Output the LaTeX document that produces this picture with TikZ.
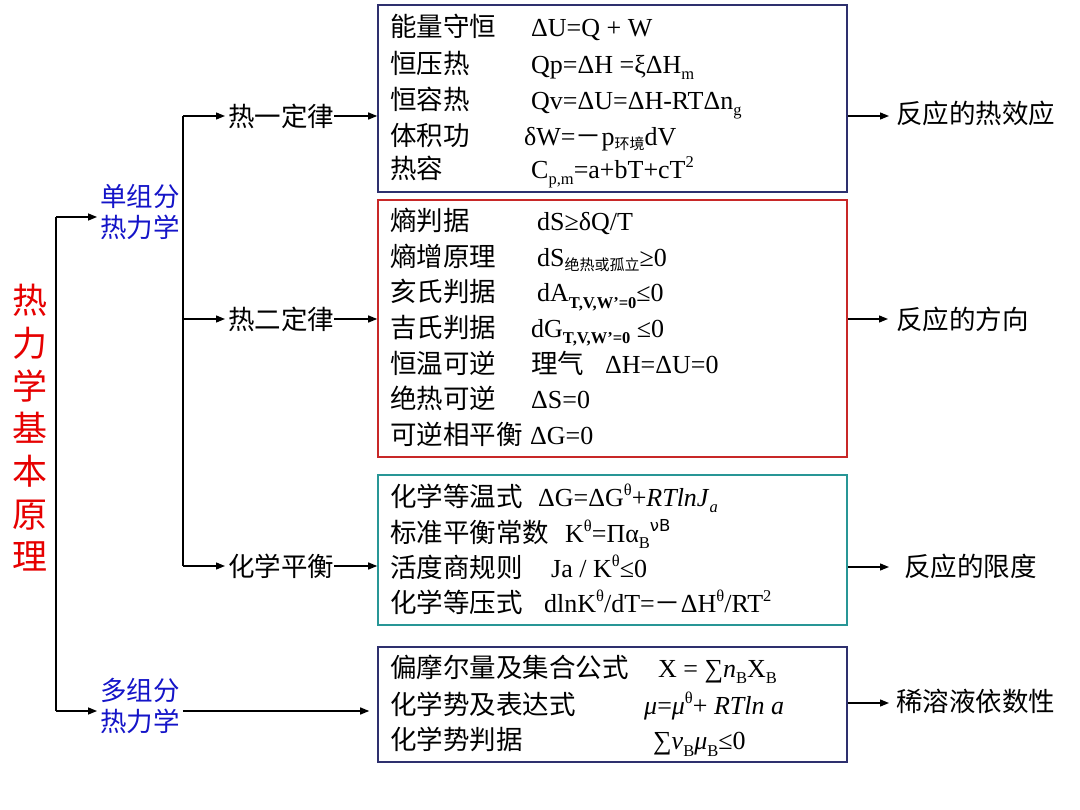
\documentclass[tikz,border=0pt]{standalone}
\usepackage{fontspec}
\setmainfont{Liberation Serif}
\newfontfamily\cjk{Noto Sans CJK SC}
\newfontfamily\dejavu{DejaVu Sans}
\usetikzlibrary{arrows.meta}
\definecolor{navyb}{RGB}{46,48,110}
\definecolor{redb}{RGB}{200,40,40}
\definecolor{tealb}{RGB}{40,150,150}
\definecolor{bluet}{RGB}{20,20,200}
\definecolor{redt}{RGB}{230,0,0}
\newcommand{\mysub}[1]{\raisebox{-0.25em}{\fontsize{16.5}{16.5}\selectfont #1}}
\newcommand{\mysup}[1]{\raisebox{0.42em}{\fontsize{16.5}{16.5}\selectfont #1}}
\newcommand{\cjksub}[1]{\raisebox{-0.15em}{\fontsize{15}{15}\selectfont\cjk #1}}
\begin{document}
\begin{tikzpicture}[x=1pt,y=-1pt,
  cjkt/.style={anchor=base west,inner sep=0pt,font=\cjk\fontsize{26.5}{30}\selectfont},
  ft/.style={anchor=base west,inner sep=0pt,font=\fontsize{26}{30}\selectfont},
  lab/.style={inner sep=0pt,font=\cjk\fontsize{26.5}{30}\selectfont},
  bluelab/.style={align=left,inner sep=3pt,text=bluet,font=\cjk\fontsize{26.5}{31}\selectfont},
  boxs/.style={draw=#1,line width=1.6pt,rectangle,inner sep=0pt},
  arr/.style={line width=1.3pt,-{Triangle[length=9pt,width=7pt]}},
  ln/.style={line width=1.3pt}]
\useasboundingbox (0,0) rectangle (1080,810);

% boxes
\node[boxs=navyb,minimum width=469pt,minimum height=187pt] (b1) at (612.5,98.5) {};
\node[boxs=redb,minimum width=469pt,minimum height=257pt] (b2) at (612.5,328.5) {};
\node[boxs=tealb,minimum width=469pt,minimum height=150pt] (b3) at (612.5,550) {};
\node[boxs=navyb,minimum width=469pt,minimum height=115pt] (b4) at (612.5,704.5) {};

% title
\node[align=center,text=redt,inner sep=0pt,font=\cjk\fontsize{35}{42.7}\selectfont] (title) at (30,428) {热\\力\\学\\基\\本\\原\\理};

% blue labels
\node[bluelab] (s1) at (140,212) {单组分\\热力学};
\node[bluelab] (s2) at (140,706) {多组分\\热力学};

% law labels
\node[lab,anchor=west] (l1) at (228,116) {热一定律};
\node[lab,anchor=west] (l2) at (228,319) {热二定律};
\node[lab,anchor=west] (l3) at (228,566) {化学平衡};

% result labels
\node[lab,anchor=west] (o1) at (896,113) {反应的热效应};
\node[lab,anchor=west] (o2) at (896,319) {反应的方向};
\node[lab,anchor=west] (o3) at (904,566) {反应的限度};
\node[lab,anchor=west] (o4) at (896,701) {稀溶液依数性};

% connectors left
\coordinate (t0) at (56,217);
\coordinate (t1) at (56,711);
\draw[ln] (t0) -- (t1);
\draw[arr] (t0) -- (s1.west |- t0);
\draw[arr] (t1) -- (s2.west |- t1);
\draw[arr] (s2.east |- t1) -- ([xshift=-8pt]b4.west |- t1);

\coordinate (u0) at (183,116);
\coordinate (u1) at (183,319);
\coordinate (u2) at (183,566);
\draw[ln] (u0) -- (u2);
\draw[arr] (u0) -- ([xshift=-3pt]l1.west);
\draw[arr] (u1) -- ([xshift=-3pt]l2.west);
\draw[arr] (u2) -- ([xshift=-3pt]l3.west);
\draw[arr] (l1.east) -- (b1.west |- l1.east);
\draw[arr] (l2.east) -- (b2.west |- l2.east);
\draw[arr] (l3.east) -- (b3.west |- l3.east);

% connectors right
\draw[arr] (b1.east |- 0,116) -- (889,116);
\draw[arr] (b2.east |- o2.west) -- ([xshift=-8pt]o2.west);
\draw[arr] (b3.east |- 0,567) -- (889,567);
\draw[arr] (b4.east |- 0,703) -- (889,703);

% box 1
\node[cjkt] (a1) at (390,36.5) {能量守恒};
\node[ft] (a1f) at (531,36.5) {ΔU=Q + W};
\node[cjkt] (a2) at (390,73.5) {恒压热};
\node[ft] (a2f) at (531,73.5) {Qp=ΔH =ξΔH\mysub{m}};
\node[cjkt] (a3) at (390,109.5) {恒容热};
\node[ft] (a3f) at (531,109.5) {Qv=ΔU=ΔH-RTΔn\mysub{g}};
\node[cjkt] (a4) at (390,145.5) {体积功};
\node[ft] (a4f) at (524,145.5) {δW={\cjk －}p\cjksub{环境}dV};
\node[cjkt] (a5) at (390,178.5) {热容};
\node[ft] (a5f) at (531,178.5) {C\mysub{p,m}=a+bT+cT\mysup{2}};

% box 2
\node[cjkt] (c1) at (390,231) {熵判据};
\node[ft] (c1f) at (537,231) {dS≥δQ/T};
\node[cjkt] (c2) at (390,267) {熵增原理};
\node[ft] (c2f) at (537,267) {dS\cjksub{绝热或孤立}≥0};
\node[cjkt] (c3) at (390,302) {亥氏判据};
\node[ft] (c3f) at (537,302) {dA\mysub{\bfseries T,V,W’=0}≤0};
\node[cjkt] (c4) at (390,337.5) {吉氏判据};
\node[ft] (c4f) at (531,337.5) {dG\mysub{\bfseries T,V,W’=0} ≤0};
\node[cjkt] (c5) at (390,374) {恒温可逆};
\node[cjkt] (c5a) at (531,374) {理气};
\node[ft] (c5f) at (605,374) {ΔH=ΔU=0};
\node[cjkt] (c6) at (390,409) {绝热可逆};
\node[ft] (c6f) at (531,409) {ΔS=0};
\node[cjkt] (c7) at (390,444.5) {可逆相平衡};
\node[ft] (c7f) at (530,444.5) {ΔG=0};

% box 3
\node[cjkt] (d1) at (390,506) {化学等温式};
\node[ft] (d1f) at (538,506) {ΔG=ΔG\mysup{θ}+\textit{RTlnJ}\mysub{\textit{a}}};
\node[cjkt] (d2) at (390,542) {标准平衡常数};
\node[ft] (d2f) at (565,542) {K\mysup{θ}=Πα\mysub{B}\mysup{\dejavu νB}};
\node[cjkt] (d3) at (390,577) {活度商规则};
\node[ft] (d3f) at (551,577) {Ja / K\mysup{θ}≤0};
\node[cjkt] (d4) at (390,612.5) {化学等压式};
\node[ft] (d4f) at (544,612.5) {dlnK\mysup{θ}/dT={\cjk －}ΔH\mysup{θ}/RT\mysup{2}};

% box 4
\node[cjkt] (e1) at (390,677) {偏摩尔量及集合公式};
\node[ft] (e1f) at (658,677) {X = ∑\textit{n}\mysub{B}X\mysub{B}};
\node[cjkt] (e2) at (390,714) {化学势及表达式};
\node[ft] (e2f) at (644,714) {\textit{μ}=\textit{μ}\mysup{θ}+ \textit{RTln a}};
\node[cjkt] (e3) at (390,749.5) {化学势判据};
\node[ft] (e3f) at (653,749.5) {∑\textit{v}\mysub{B}\textit{μ}\mysub{B}≤0};
\end{tikzpicture}
\end{document}
